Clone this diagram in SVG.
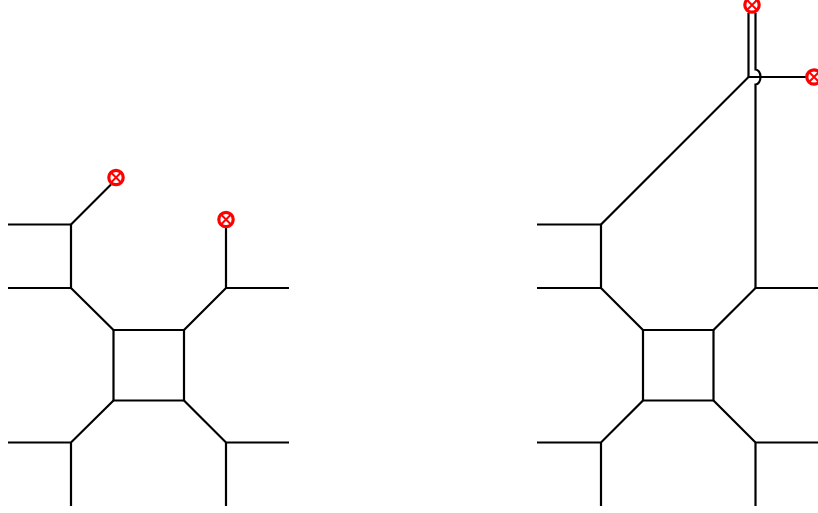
<svg xmlns="http://www.w3.org/2000/svg" width="818" height="513" viewBox="0 0 818 513">
<style>
.w{fill:none;stroke:#000;stroke-width:2.2}
.x{fill:#fff;stroke:#f00;stroke-width:3.2}
.c{fill:none;stroke:#f00;stroke-width:2}
</style>
<defs>
<g id="cross"><circle class="x" r="7.2"/><path class="c" d="M-5-5L5 5M-5 5L5-5"/></g>
</defs>
<rect width="818" height="513" fill="#fff"/>
<g id="connectors">
<path class="w" d="M113.500 330H184V400.500H113.500Z"/>
<path class="w" d="M8 224.500H71V288M8 288H71L113.500 330"/>
<path class="w" d="M71 224.500L111 184.500"/>
<path class="w" d="M184 330L226 288H289M226 288V228"/>
<path class="w" d="M113.500 400.500L71 442.500H8M71 442.500V506"/>
<path class="w" d="M184 400.500L226 442.500H289M226 442.500V506"/>
<path class="w" d="M643 330H713.500V400.500H643Z"/>
<path class="w" d="M537 224.500H601V288M537 288H601L643 330"/>
<path class="w" d="M601 224.500L748.500 77H806"/>
<path class="w" d="M748.500 77V13M755.500 13V69.500A5 7.500 0 0 1 755.500 84.500V288"/>
<path class="w" d="M713.500 330L755.500 288H818"/>
<path class="w" d="M643 400.500L601 442.500H537M601 442.500V506"/>
<path class="w" d="M713.500 400.500L755.500 442.500H818M755.500 442.500V506"/>
</g>
<g id="node-1"><use href="#cross" x="116" y="177.500"/></g>
<g id="node-2"><use href="#cross" x="226" y="219.500"/></g>
<g id="node-3"><use href="#cross" x="752" y="5"/></g>
<g id="node-4"><use href="#cross" x="814" y="77"/></g>
</svg>
